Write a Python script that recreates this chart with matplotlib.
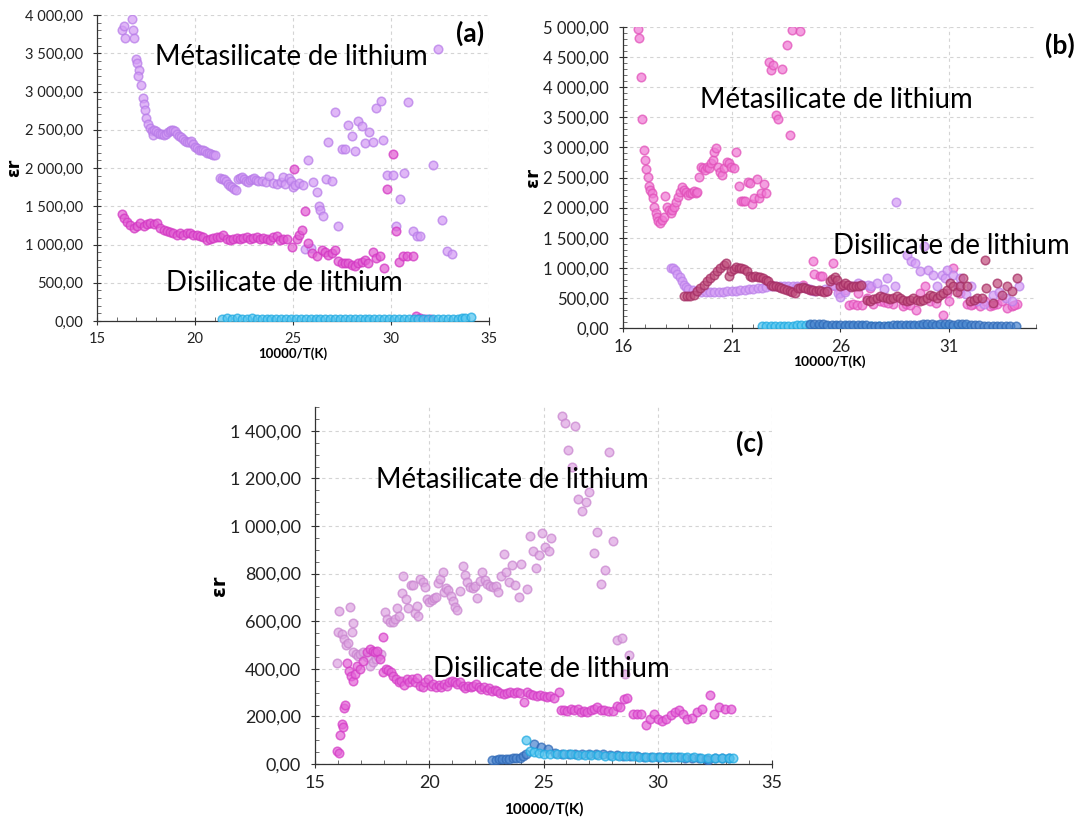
import numpy as np
import matplotlib
matplotlib.use('Agg')
import matplotlib.pyplot as plt
from matplotlib.ticker import FuncFormatter, MultipleLocator

plt.rcParams['font.family'] = ['Lato', 'DejaVu Sans']

# ---------------- panel (a) ----------------
a_meta_x = [16.3, 16.4, 16.45, 16.8, 16.85, 16.9, 17.0, 17.05, 17.15, 17.1,
            17.25, 17.35, 17.4, 17.45, 17.5, 17.6, 17.7, 17.8, 17.85, 17.9,
            18.0, 18.1, 18.2, 18.3, 18.4, 18.5, 18.6, 18.7, 18.8, 18.9,
            19.0, 19.1, 19.2, 19.3, 19.4, 19.5, 19.6, 19.7, 19.8, 19.9,
            20.0, 20.1, 20.2, 20.3, 20.4, 20.5, 20.6, 20.7, 20.8, 20.9,
            21.0, 21.3, 21.4, 21.5, 21.6, 21.7, 21.8, 21.9, 22.0, 22.1,
            22.2, 22.3, 22.4, 22.5, 22.6, 22.7, 22.8, 22.9, 23.0, 23.1,
            23.2, 23.4, 23.6, 23.8, 24.0, 24.2, 24.4, 24.5, 24.6, 24.8,
            24.9, 25.0, 25.1, 25.3, 25.5, 25.6, 25.78, 25.9, 26.03, 26.2,
            26.34, 26.4, 26.51, 26.68, 26.8, 26.97, 27.14, 27.31, 27.48, 27.65,
            27.82, 27.99, 28.16, 28.33, 28.5, 28.67, 28.89, 29.06, 29.26, 29.47,
            29.6, 29.8, 30.08, 30.67, 30.25, 30.45, 30.88, 31.1, 31.33, 31.5,
            32.15, 32.62, 32.42, 32.86, 33.13]
a_meta_y = [3800, 3850, 3700, 3950, 3800, 3700, 3420, 3370, 3280, 3200,
            3080, 2920, 2840, 2760, 2650, 2580, 2520, 2480, 2430, 2500,
            2480, 2460, 2450, 2440, 2430, 2450, 2470, 2490, 2500, 2500,
            2480, 2450, 2420, 2400, 2380, 2350, 2340, 2340, 2350, 2320,
            2280, 2260, 2240, 2230, 2230, 2220, 2200, 2190, 2180, 2170,
            2170, 1870, 1860, 1850, 1830, 1790, 1770, 1750, 1720, 1710,
            1860, 1870, 1880, 1850, 1830, 1820, 1840, 1850, 1870, 1840,
            1830, 1830, 1820, 1890, 1800, 1790, 1820, 1880, 1790, 1870,
            1830, 1750, 1780, 1800, 1780, 940, 2100, 960, 1815, 1690,
            1500, 1450, 1375, 1855, 2340, 1830, 2730, 1245, 2250, 2245,
            2560, 2415, 2225, 2610, 2550, 2330, 2470, 2345, 2790, 2880,
            2365, 1905, 1910, 1940, 1240, 1595, 2865, 1170, 1105, 1105,
            2035, 1320, 3560, 910, 880]

a_di_x = [16.27, 16.39, 16.53, 16.70, 16.87, 17.04, 17.21, 17.38, 17.55, 17.72,
          17.89, 18.06, 18.23, 18.40, 18.57, 18.74, 18.90, 19.07, 19.24, 19.41,
          19.58, 19.75, 19.92, 20.09, 20.26, 20.43, 20.60, 20.77, 20.94, 21.11,
          21.28, 21.45, 21.62, 21.79, 21.96, 22.13, 22.30, 22.47, 22.64, 22.81,
          22.98, 23.15, 23.32, 23.49, 23.66, 23.83, 24.00, 24.17, 24.34, 24.51,
          24.68, 24.93, 25.05, 25.19, 25.32, 25.44, 25.61, 25.78, 25.95, 26.20,
          26.46, 26.63, 26.80, 26.97, 27.14, 27.31, 27.48, 27.65, 27.82, 27.99,
          28.16, 28.33, 28.50, 28.67, 28.84, 29.06, 29.26, 29.43, 29.63, 29.80,
          30.08, 30.25, 30.42, 30.62, 30.82, 31.10, 31.27, 31.50, 31.72, 31.98]
a_di_y = [1396, 1343, 1300, 1257, 1213, 1243, 1287, 1243, 1270, 1287,
          1270, 1287, 1213, 1191, 1183, 1165, 1148, 1130, 1148, 1130,
          1148, 1148, 1126, 1122, 1113, 1096, 1061, 1070, 1087, 1096,
          1104, 1126, 1070, 1061, 1078, 1087, 1078, 1087, 1096, 1078,
          1087, 1096, 1078, 1087, 1078, 1061, 1096, 1113, 1061, 1078,
          1070, 965, 1983, 1070, 1126, 1191, 1443, 1017, 887, 852,
          922, 905, 865, 887, 930, 783, 757, 757, 757, 735,
          713, 757, 774, 791, 757, 905, 822, 852, 696, 1726,
          2178, 1183, 765, 852, 852, 852, 61, 35, 30, 30]

a_blue_x = [21.4, 21.65, 21.9, 22.15, 22.4, 22.65, 22.9, 23.15, 23.4, 23.65,
            23.9, 24.15, 24.4, 24.65, 24.9, 25.15, 25.4, 25.65, 25.9, 26.15,
            26.4, 26.65, 26.9, 27.15, 27.4, 27.65, 27.9, 28.15, 28.4, 28.65,
            28.9, 29.15, 29.4, 29.65, 29.9, 30.15, 30.4, 30.65, 30.9, 31.15,
            31.4, 31.65, 31.9, 32.15, 32.4, 32.65, 32.9, 33.15, 33.4, 33.6,
            33.8, 34.1]
a_blue_y = [32, 33, 31, 34, 32, 30, 33, 31, 32, 30,
            31, 29, 28, 22, 20, 21, 23, 20, 22, 21,
            20, 22, 21, 20, 23, 21, 22, 20, 21, 23,
            22, 21, 20, 22, 21, 23, 22, 20, 21, 22,
            21, 20, 22, 21, 20, 22, 21, 23, 22, 40,
            45, 58]

# ---------------- panel (b) ----------------
b_pink_x = [16.67, 16.74, 16.83, 16.89, 16.95, 17.01, 17.07, 17.13, 17.19, 17.26,
            17.32, 17.38, 17.44, 17.50, 17.56, 17.62, 17.72, 17.81, 17.87, 17.93,
            18.02, 18.11, 18.21, 18.27, 18.36, 18.45, 18.54, 18.60, 18.70, 18.79,
            18.88, 18.97, 19.06, 19.16, 19.25, 19.34, 19.40, 19.49, 19.59, 19.68,
            19.77, 19.86, 19.95, 20.04, 20.14, 20.20, 20.29, 20.38, 20.47, 20.56,
            20.66, 20.78, 20.87, 20.96, 21.09, 21.21, 21.33, 21.42, 21.52, 21.61,
            21.73, 21.82, 21.95, 22.04, 22.16, 22.25, 22.34, 22.47, 22.59, 22.70,
            22.80, 22.92, 23.31, 23.04, 23.15, 23.54, 23.66, 23.77, 24.15,
            24.30, 24.61, 24.73, 24.79, 25.07, 25.15, 25.38, 25.65, 25.76, 25.99,
            26.22, 26.40, 26.60, 26.75, 26.83, 27.22, 27.37, 27.52, 27.83, 28.44,
            28.90, 29.48, 29.67, 29.90, 30.13, 30.74, 30.89, 31.20, 31.50, 31.81,
            32.12, 32.42, 32.65, 32.88, 33.19, 33.42, 33.65, 33.88, 34.11,
            27.0, 28.0, 28.2, 29.0, 29.2, 30.4, 31.0, 32.0, 33.0, 34.0]
b_pink_y = [4973, 4823, 4171, 3464, 2956, 2790, 2635, 2503, 2359, 2293,
            2249, 2155, 2017, 1917, 1851, 1785, 1751, 1796, 1851, 2193,
            2017, 1961, 1906, 1961, 2017, 2100, 2182, 2265, 2348, 2293,
            2265, 2210, 2238, 2249, 2282, 2249, 2265, 2514, 2680, 2652,
            2624, 2680, 2652, 2735, 2790, 2928, 2984, 2680, 2597, 2541,
            2652, 2763, 2735, 2680, 2652, 2928, 2359, 2110, 2110, 2110,
            2431, 2403, 2061, 2155, 2470, 2155, 2249, 2392, 2249, 4420,
            4282, 4365, 4310, 3536, 3464, 4696, 3205, 4956, 4934,
            718, 635, 1105, 900, 856, 856, 608, 1077, 690, 580,
            635, 387, 403, 387, 580, 497, 663, 403, 442, 403,
            359, 293, 580, 690, 442, 221, 580, 995, 580, 403,
            403, 359, 442, 359, 403, 442, 331, 370, 403,
            380, 430, 420, 400, 380, 420, 450, 380, 380, 380]

b_dark_x = [18.79, 18.94, 19.09, 19.25, 19.40, 19.55, 19.71, 19.86, 20.01, 20.17,
            20.32, 20.47, 20.63, 20.75, 20.86, 20.96, 21.09, 21.21, 21.33, 21.45,
            21.58, 21.70, 21.82, 21.95, 22.07, 22.19, 22.31, 22.43, 22.56, 22.68,
            22.80, 22.92, 23.05, 23.17, 23.29, 23.41, 23.54, 23.66, 23.78, 23.90,
            24.03, 24.15, 24.27, 24.39, 24.51, 24.64, 24.76, 24.88, 25.01, 25.13,
            25.25, 25.38, 25.50, 25.62, 25.74, 25.86, 25.99, 26.11, 26.23, 26.36,
            26.48, 26.60, 26.72, 26.85, 26.97, 27.22, 27.37, 27.52, 27.68, 27.83,
            27.98, 28.13, 28.29, 28.44, 28.59, 28.75, 28.90, 29.05, 29.21, 29.36,
            29.51, 29.67, 29.82, 29.97, 30.13, 30.28, 30.43, 30.59, 30.74, 30.92,
            31.04, 31.20, 31.35, 31.50, 31.66, 31.81, 31.97, 32.15, 32.30, 32.50,
            32.65, 32.70, 33.04, 33.22, 33.42, 33.65, 33.88, 34.11]
b_dark_y = [525, 525, 536, 553, 608, 663, 718, 774, 829, 884,
            939, 995, 1039, 1088, 867, 939, 978, 1011, 1000, 989,
            978, 939, 856, 845, 856, 845, 845, 829, 801, 774,
            718, 702, 691, 680, 657, 646, 635, 613, 602, 580,
            663, 657, 680, 663, 646, 635, 624, 613, 624, 613,
            602, 608, 774, 812, 845, 801, 691, 718, 746, 718,
            680, 702, 691, 702, 718, 470, 442, 481, 497, 525,
            514, 497, 481, 497, 525, 497, 470, 442, 470, 497,
            470, 442, 470, 497, 553, 525, 497, 553, 580, 635,
            746, 691, 591, 691, 829, 691, 442, 470, 497, 497,
            1130, 663, 415, 746, 553, 702, 608, 829]

b_violet_x = [18.20, 18.30, 18.40, 18.50, 18.60, 18.70, 18.80, 18.90, 19.00, 19.20,
              19.40, 19.60, 19.80, 20.00, 20.20, 20.40, 20.60, 20.80, 21.00, 21.20,
              21.40, 21.60, 21.80, 22.00, 22.20, 22.40, 22.60, 22.80, 23.00, 23.20,
              23.40, 23.60, 23.80, 24.00, 24.20, 24.40, 24.60, 24.80, 25.30, 25.68,
              25.91, 26.00, 26.20, 26.50, 26.80, 27.00, 27.29, 27.40, 27.67, 28.13,
              28.00, 28.56, 28.50, 29.05, 29.24, 29.44, 29.67, 29.85, 30.05, 30.28,
              30.46, 30.66, 30.82, 30.92, 31.20, 31.40, 31.50, 31.80, 32.00, 32.30,
              32.60, 33.00, 33.30, 33.60, 33.90, 34.20]
b_violet_y = [990, 990, 960, 900, 850, 780, 720, 680, 650, 630,
              615, 605, 600, 595, 600, 600, 605, 610, 615, 620,
              625, 635, 640, 650, 660, 670, 680, 690, 700, 700,
              700, 700, 700, 690, 680, 670, 640, 620, 640, 718,
              580, 520, 600, 700, 750, 720, 718, 700, 746, 829,
              650, 2090, 700, 1215, 1105, 1077, 939, 1354, 967, 884,
              691, 884, 829, 967, 884, 700, 829, 560, 700, 450,
              400, 550, 600, 500, 450, 700]

b_lblue_x = [22.40, 22.60, 22.80, 23.00, 23.20, 23.40, 23.60, 23.80, 24.00, 24.20,
             24.40, 24.60, 25.00, 25.40, 25.80, 26.20, 26.60, 27.00, 27.40, 27.80,
             28.20, 28.60, 29.00, 29.40, 29.80, 30.20, 30.60, 31.00, 31.40, 31.80]
b_lblue_y = [35, 38, 36, 37, 35, 38, 36, 40, 42, 45,
             50, 48, 40, 35, 30, 28, 30, 25, 28, 26,
             25, 28, 30, 28, 25, 30, 28, 35, 30, 28]

b_dblue_x = [24.60, 24.80, 25.00, 25.20, 25.40, 25.60, 25.80, 26.00, 26.20, 26.40,
             26.60, 26.80, 27.00, 27.20, 27.40, 27.60, 27.80, 28.00, 28.20, 28.40,
             28.60, 28.80, 29.00, 29.20, 29.40, 29.60, 29.80, 30.00, 30.20, 30.40,
             30.60, 30.80, 31.00, 31.20, 31.40, 31.60, 31.80, 32.00, 32.20, 32.40,
             32.60, 32.80, 33.00, 33.20, 33.40, 33.60, 33.80, 34.10]
b_dblue_y = [65, 70, 68, 62, 58, 55, 52, 50, 48, 46,
             45, 44, 42, 42, 40, 40, 38, 38, 40, 42,
             45, 48, 50, 52, 55, 58, 60, 62, 60, 58,
             60, 62, 60, 58, 62, 65, 60, 50, 45, 42,
             40, 38, 36, 35, 34, 32, 30, 28]

# ---------------- panel (c) ----------------
c_meta_x = [15.98, 16.06, 16.02, 16.17, 16.27, 16.36, 16.46, 16.53, 16.60, 16.65,
            16.68, 16.79, 16.90, 16.97, 17.11, 17.26, 17.41, 17.55, 17.67, 17.77,
            17.87, 18.06, 18.16, 18.28, 18.40, 18.50, 18.57, 18.69, 18.79, 18.86,
            18.98, 19.08, 19.18, 19.27, 19.37, 19.45, 19.52, 19.59, 19.71, 19.81,
            19.88, 20.00, 20.10, 20.20, 20.29, 20.39, 20.49, 20.58, 20.64, 20.73,
            20.83, 20.93, 21.05, 21.12, 21.22, 21.34, 21.46, 21.56, 21.66, 21.78,
            21.90, 22.00, 22.10, 22.22, 22.33, 22.43, 22.54, 22.65, 22.77, 22.94,
            23.03, 23.13, 23.25, 23.37, 23.51, 23.62, 23.76, 23.91, 24.01, 24.27,
            24.39, 24.53, 24.68, 24.80, 24.93, 25.07, 25.22, 25.34, 25.80, 25.95,
            26.38, 26.09, 26.24, 26.53, 26.68, 26.87, 27.01, 27.19, 27.36, 27.52,
            27.70, 27.87, 28.06, 28.21, 28.43, 28.76, 28.57]
c_meta_y = [424, 641, 553, 546, 525, 500, 508, 658, 556, 592,
            469, 462, 452, 462, 472, 448, 413, 427, 441, 452,
            462, 637, 609, 595, 598, 609, 654, 620, 718, 788,
            693, 654, 752, 752, 634, 665, 620, 777, 763, 742,
            693, 679, 690, 696, 700, 760, 777, 805, 721, 738,
            732, 707, 686, 658, 648, 728, 833, 794, 763, 742,
            738, 749, 696, 770, 805, 774, 756, 749, 742, 746,
            721, 791, 882, 808, 766, 836, 752, 700, 840, 735,
            959, 896, 822, 878, 970, 910, 896, 948, 1463, 1432,
            1421, 1320, 1250, 1113, 1064, 1102, 1144, 886, 976, 756,
            816, 1312, 938, 522, 528, 458, 378]

c_di_x = [15.98, 16.06, 16.09, 16.17, 16.21, 16.27, 16.33, 16.41, 16.50, 16.56,
          16.65, 16.75, 16.85, 16.97, 17.11, 17.26, 17.41, 17.52, 17.62, 17.73,
          17.84, 17.96, 17.99, 18.10, 18.21, 18.31, 18.43, 18.54, 18.66, 18.78,
          18.89, 19.01, 19.13, 19.24, 19.36, 19.48, 19.59, 19.71, 19.83, 19.94,
          20.06, 20.17, 20.29, 20.41, 20.52, 20.64, 20.76, 20.87, 20.99, 21.11,
          21.22, 21.34, 21.46, 21.57, 21.69, 21.81, 21.92, 22.04, 22.16, 22.27,
          22.39, 22.51, 22.62, 22.74, 22.86, 22.97, 23.10, 23.25, 23.40, 23.54,
          23.69, 23.83, 23.98, 24.13, 24.27, 24.42, 24.56, 24.71, 24.85, 25.00,
          25.15, 25.29, 25.44, 25.66, 25.76, 25.90, 26.05, 26.20, 26.34, 26.49,
          26.63, 26.78, 26.92, 27.07, 27.22, 27.36, 27.51, 27.65, 27.84, 28.03,
          28.21, 28.35, 28.53, 28.67, 28.91, 29.08, 29.26, 29.49, 29.66, 29.84,
          29.99, 30.17, 30.36, 30.57, 30.76, 30.95, 31.12, 31.30, 31.49, 31.71,
          31.92, 32.27, 32.48, 32.69, 32.94, 33.22]
c_di_y = [56, 46, 122, 168, 154, 234, 248, 424, 392, 371,
          350, 378, 413, 399, 434, 469, 483, 476, 472, 476,
          441, 532, 388, 399, 396, 385, 371, 357, 343, 350,
          332, 357, 346, 357, 343, 360, 329, 322, 343, 357,
          329, 336, 322, 332, 322, 336, 326, 343, 350, 343,
          336, 343, 329, 318, 329, 322, 326, 336, 322, 315,
          322, 312, 318, 308, 312, 308, 298, 294, 298, 301,
          298, 304, 298, 259, 304, 294, 290, 287, 290, 284,
          280, 284, 279, 301, 228, 228, 224, 231, 228, 231,
          217, 224, 217, 228, 231, 238, 228, 228, 224, 224,
          245, 238, 273, 276, 210, 210, 210, 164, 189, 210,
          189, 182, 189, 206, 217, 228, 210, 189, 192, 217,
          231, 289, 212, 240, 229, 229]

c_dblue_x = [22.75, 22.90, 23.05, 23.20, 23.35, 23.50, 23.65, 23.80, 23.95, 24.10,
             24.25, 24.60, 24.90, 25.20, 25.50, 25.80, 26.10, 26.40, 26.70, 27.00,
             27.30, 27.60, 27.90, 28.20, 28.50, 28.80, 29.10, 29.40, 29.70, 30.00,
             30.30, 30.60, 30.90, 31.20, 31.50, 31.80, 32.10, 32.20, 32.50, 32.80,
             33.10]
c_dblue_y = [17, 18, 20, 21, 22, 23, 24, 25, 27, 32,
             40, 85, 70, 62, 45, 42, 44, 40, 42, 43,
             42, 40, 38, 36, 35, 33, 32, 31, 30, 30,
             29, 28, 28, 27, 27, 26, 22, 18, 26, 25,
             25]

c_lblue_x = [24.25, 24.40, 24.60, 24.80, 25.00, 25.30, 25.60, 25.90, 26.20, 26.50,
             26.80, 27.10, 27.40, 27.70, 28.00, 28.30, 28.60, 28.90, 29.20, 29.50,
             29.80, 30.10, 30.40, 30.70, 31.00, 31.30, 31.60, 31.90, 32.20, 32.50,
             32.80, 33.10, 33.30]
c_lblue_y = [100, 55, 50, 45, 44, 43, 42, 40, 40, 38,
             38, 37, 36, 35, 34, 33, 32, 32, 31, 30,
             30, 30, 29, 29, 28, 28, 28, 27, 27, 27,
             26, 26, 26]


def fr_format(v, pos):
    # French number style: "4 000,00"
    return f'{v:,.2f}'.replace(',', ' ').replace('.', ',')


def dots(ax, x, y, face, edge, alpha=0.72):
    ax.scatter(x, y, s=38, facecolor=face, edgecolor=edge, alpha=alpha,
               linewidths=1.1, zorder=3)


def style_axes(ax, xlim, xticks, ylim, ystep, yminor, fs, lab_fs, xpad):
    ax.set_xlim(*xlim)
    ax.set_ylim(*ylim)
    ax.set_xticks(xticks)
    ax.yaxis.set_major_locator(MultipleLocator(ystep))
    ax.yaxis.set_minor_locator(MultipleLocator(yminor))
    ax.xaxis.set_minor_locator(MultipleLocator(1))
    ax.yaxis.set_major_formatter(FuncFormatter(fr_format))
    for side in ['top', 'right']:
        ax.spines[side].set_visible(False)
    for side in ['left', 'bottom']:
        ax.spines[side].set_color('#333333')
        ax.spines[side].set_linewidth(0.9)
    ax.tick_params(which='major', direction='inout', length=6, width=0.8,
                   color='#333333', labelsize=fs, labelcolor='#222222')
    ax.tick_params(axis='y', which='major', pad=7)
    ax.tick_params(axis='x', which='major', pad=5)
    ax.tick_params(which='minor', direction='in', length=3, width=0.6,
                   color='#555555')
    ax.grid(True, which='major', color='#d4d4d4', linestyle=(0, (3, 3)),
            linewidth=0.8, zorder=0)
    ax.set_axisbelow(True)
    ax.set_xlabel('10000/T(K)', fontsize=lab_fs, fontweight='bold',
                  labelpad=xpad)
    ax.set_ylabel('εr', fontsize=lab_fs + 3, fontweight='bold', labelpad=1,
                  family=['DejaVu Sans'])


W, H = 1087, 825
fig = plt.figure(figsize=(W / 100, H / 100), dpi=100)


def px_axes(l, t, r, b):
    return fig.add_axes([l / W, 1 - b / H, (r - l) / W, (b - t) / H])


def px_text(x, y, s, size, weight='normal', ha='left'):
    fig.text(x / W, 1 - y / H, s, fontsize=size, fontweight=weight,
             ha=ha, va='center', color='black', zorder=10)


TXT = 19.8

# panel (a)
ax_a = px_axes(97, 15, 489, 321)
dots(ax_a, a_meta_x, a_meta_y, '#d49cf5', '#b77be8')
dots(ax_a, a_di_x, a_di_y, '#e25fd3', '#d235c2')
dots(ax_a, a_blue_x, a_blue_y, '#55c6f0', '#1ea9e1')
style_axes(ax_a, (15, 35), [15, 20, 25, 30, 35], (0, 4000), 500, 100, 10.5, 9.5, 1)
px_text(155, 57, 'Métasilicate de lithium', TXT)
px_text(166, 283, 'Disilicate de lithium', TXT)
px_text(470, 33, '(a)', 19, 'bold', 'center')

# panel (b)
ax_b = px_axes(623, 27, 1036, 328)
dots(ax_b, b_pink_x, b_pink_y, '#f07ad4', '#e14fb8')
dots(ax_b, b_violet_x, b_violet_y, '#d49cf5', '#bb80ea')
dots(ax_b, b_dark_x, b_dark_y, '#c2517f', '#a42c63')
dots(ax_b, b_lblue_x, b_lblue_y, '#55c6f0', '#1ea9e1')
dots(ax_b, b_dblue_x, b_dblue_y, '#4c86cf', '#2e68b6')
style_axes(ax_b, (16, 35), [16, 21, 26, 31], (0, 5000), 500, 100, 12, 10, 0)
px_text(700, 100, 'Métasilicate de lithium', TXT)
px_text(833, 246, 'Disilicate de lithium', TXT)
px_text(1060, 45, '(b)', 19, 'bold', 'center')

# panel (c)
ax_c = px_axes(315, 407, 772, 764)
dots(ax_c, c_meta_x, c_meta_y, '#dea6e2', '#c985cf')
dots(ax_c, c_di_x, c_di_y, '#e466d8', '#d43cc6')
dots(ax_c, c_dblue_x, c_dblue_y, '#4c86cf', '#2e68b6')
dots(ax_c, c_lblue_x, c_lblue_y, '#55c6f0', '#1ea9e1')
style_axes(ax_c, (15, 35), [15, 20, 25, 30, 35], (0, 1500), 200, 50, 13, 11, 8)
px_text(376, 480, 'Métasilicate de lithium', TXT)
px_text(433, 669, 'Disilicate de lithium', TXT)
px_text(750, 443, '(c)', 19, 'bold', 'center')

fig.savefig('out.png', dpi=100)
